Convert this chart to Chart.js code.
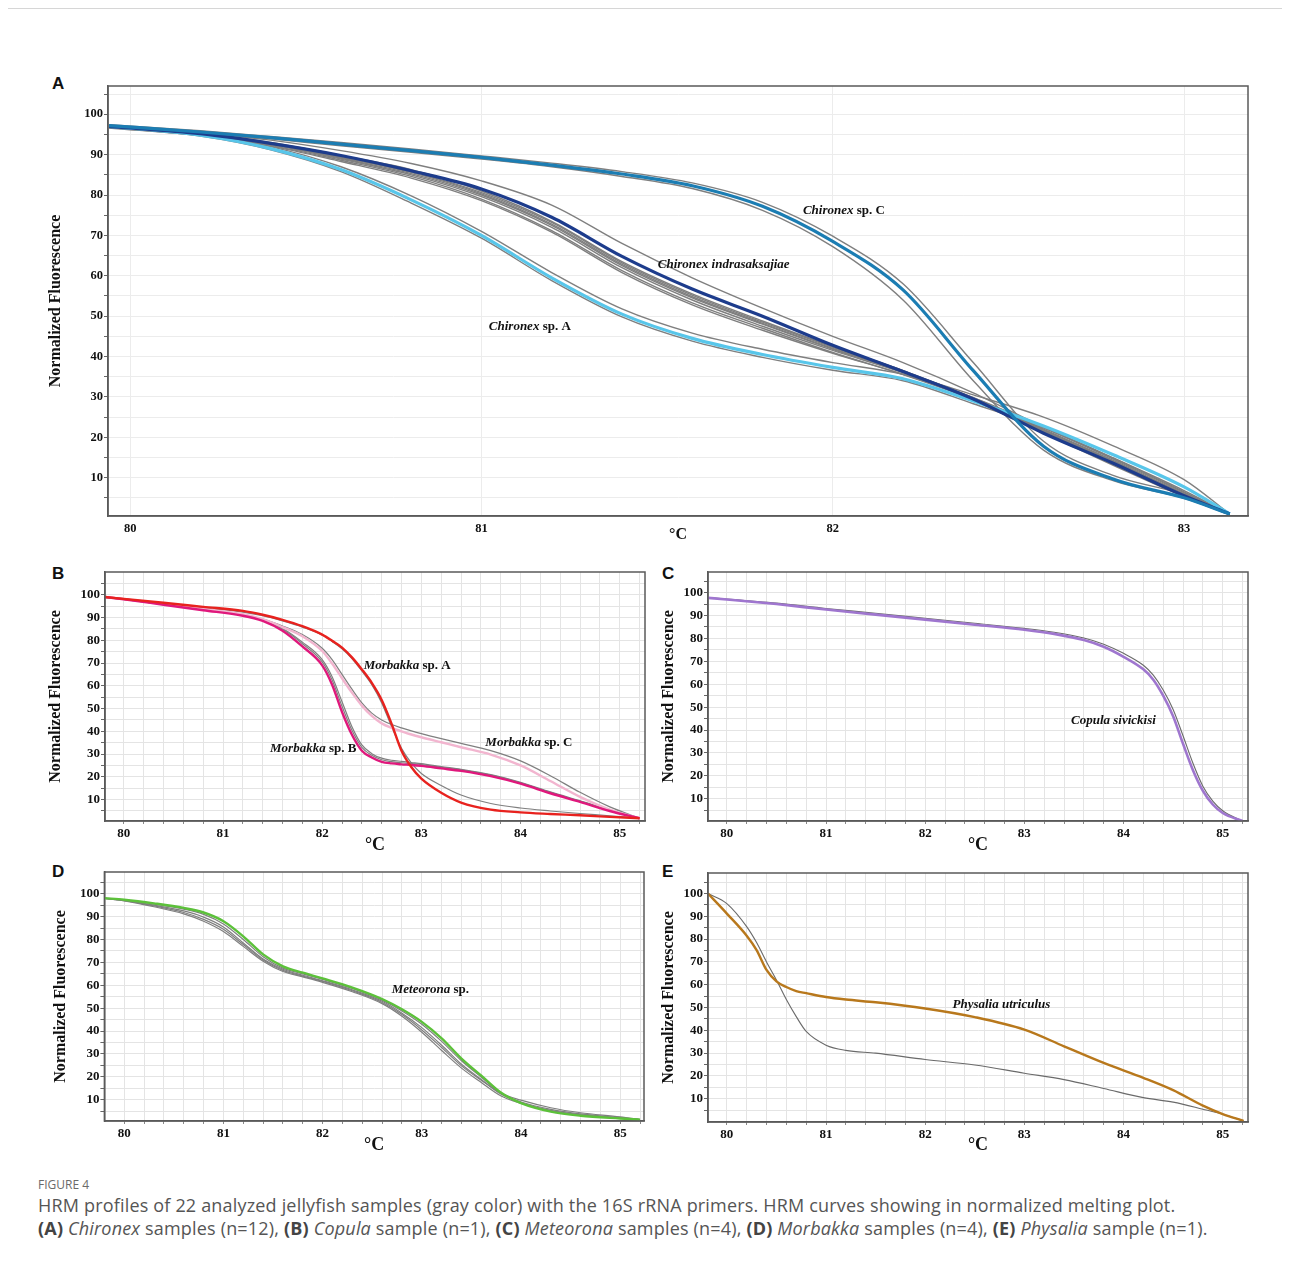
<!DOCTYPE html>
<html><head><meta charset="utf-8">
<script src="https://cdn.jsdelivr.net/npm/chart.js@4.4.0/dist/chart.umd.min.js"></script>
<style>
html,body{margin:0;padding:0;background:#fff}
body{width:1290px;height:1263px;position:relative;overflow:hidden;font-family:"Open Sans","Noto Sans",sans-serif}
.rule{position:absolute;left:8px;top:8px;width:1274px;height:1px;background:#d6d6d6}
canvas{position:absolute}
.plbl{position:absolute;font:bold 17px "Liberation Sans",Arial,sans-serif;color:#111;line-height:17px}
.fig{position:absolute;left:38px;top:1176px;font-size:12px;color:#6a6a6a;white-space:nowrap}
.cap{position:absolute;left:38px;top:1194px;font-size:18px;line-height:23px;color:#555;white-space:nowrap;letter-spacing:0.18px}
.cap b{color:#444}
</style></head><body>
<div class="rule"></div>
<div class="plbl" style="left:52px;top:75px">A</div>
<div class="plbl" style="left:52px;top:565px">B</div>
<div class="plbl" style="left:662px;top:565px">C</div>
<div class="plbl" style="left:52px;top:863px">D</div>
<div class="plbl" style="left:662px;top:863px">E</div>
<canvas id="cA" width="1240" height="480" style="left:30px;top:70px"></canvas>
<canvas id="cB" width="630" height="300" style="left:30px;top:560px"></canvas>
<canvas id="cC" width="630" height="300" style="left:640px;top:560px"></canvas>
<canvas id="cD" width="630" height="300" style="left:30px;top:860px"></canvas>
<canvas id="cE" width="630" height="300" style="left:640px;top:860px"></canvas>
<div class="fig">FIGURE 4</div>
<div class="cap">HRM profiles of 22 analyzed jellyfish samples (gray color) with the 16S rRNA primers. HRM curves showing in normalized melting plot.<br><b>(A)</b> <i>Chironex</i> samples (n=12), <b>(B)</b> <i>Copula</i> sample (n=1), <b>(C)</b> <i>Meteorona</i> samples (n=4), <b>(D)</b> <i>Morbakka</i> samples (n=4), <b>(E)</b> <i>Physalia</i> sample (n=1).</div>
<script>
// ---------------- DATA ----------------
// Tick labels
const yTickLabels = [10, 20, 30, 40, 50, 60, 70, 80, 90, 100];
const yGridValues = [5, 10, 15, 20, 25, 30, 35, 40, 45, 50, 55, 60, 65, 70, 75, 80, 85, 90, 95, 100, 105];
const xTickLabelsA = [80, 81, 82, 83];
const xTickLabelsBE = [80, 81, 82, 83, 84, 85];

// Panel A: Chironex (temperature, °C)
const aTemp = [79.94, 80.2, 80.4, 80.6, 80.8, 81.0, 81.2, 81.4, 81.6, 81.8, 82.0, 82.2, 82.4, 82.6, 82.8, 83.0, 83.13];
const aChironexC = [97.2, 95.6, 94.2, 92.6, 91.0, 89.3, 87.4, 85.2, 82.3, 77.2, 68.5, 56.5, 36.5, 17.8, 9.6, 5.0, 1];
const aIndrasaksajiae = [97.0, 95.2, 92.8, 89.8, 86.0, 81.5, 74.5, 64.8, 56.7, 50.0, 42.8, 36.3, 29.5, 21.0, 13.5, 5.5, 1];
const aChironexA = [97.0, 94.8, 91.5, 86.3, 78.8, 70.0, 59.5, 50.5, 44.5, 40.5, 37.3, 34.5, 29.0, 22.8, 15.6, 7.7, 1];
const aSampleGray1 = [97.2, 95.0, 92.0, 87.0, 79.8, 71.0, 60.8, 51.8, 45.8, 41.8, 38.5, 35.6, 30.5, 25.0, 17.8, 9.5, 1];
const aSampleGray2 = [96.8, 94.6, 91.2, 85.8, 78.0, 69.3, 58.8, 49.8, 43.8, 39.8, 36.6, 34.0, 28.3, 22.3, 14.8, 6.8, 1];
const aSampleGray3 = [97.4, 95.9, 94.5, 93.0, 91.4, 89.7, 87.9, 85.8, 83.0, 78.2, 69.8, 58.0, 38.5, 19.0, 10.5, 5.8, 1];
const aSampleGray4 = [97.0, 95.4, 93.9, 92.2, 90.6, 88.9, 87.0, 84.6, 81.6, 76.2, 67.2, 54.0, 34.0, 16.8, 9.2, 4.9, 1];
const aSampleGray5 = [97.2, 95.5, 93.6, 91.0, 87.8, 83.5, 77.5, 68.0, 59.5, 52.0, 45.0, 38.5, 31.0, 22.5, 14.5, 6.3, 1];
const aSampleGray6 = [97.0, 95.3, 93.0, 89.8, 86.3, 81.0, 73.5, 63.5, 55.5, 48.8, 42.5, 36.5, 29.5, 21.5, 13.8, 5.8, 1];
const aSampleGray7 = [96.9, 95.1, 92.7, 89.3, 85.6, 80.3, 72.8, 62.8, 54.8, 48.2, 42.0, 36.3, 29.8, 22.0, 14.2, 6.0, 1];
const aSampleGray8 = [96.8, 95.0, 92.5, 88.9, 85.0, 79.6, 72.0, 62.0, 54.0, 47.5, 41.5, 36.0, 29.5, 21.5, 13.5, 5.5, 1];
const aSampleGray9 = [96.7, 94.8, 92.3, 88.6, 84.6, 79.0, 71.2, 61.3, 53.3, 47.0, 41.0, 35.5, 29.3, 21.8, 14.0, 6.0, 1];
const aSampleGray10 = [96.6, 94.7, 92.1, 88.3, 84.2, 78.6, 70.8, 60.8, 52.8, 46.5, 40.8, 35.6, 29.8, 22.5, 14.8, 6.5, 1];
const aSampleGray11 = [96.8, 95.0, 92.6, 89.1, 85.3, 80.0, 72.5, 62.5, 54.5, 48.0, 41.8, 36.2, 29.2, 21.0, 13.0, 5.3, 1];
const aSampleGray12 = [96.9, 95.2, 92.8, 89.5, 85.8, 80.6, 73.2, 63.2, 55.2, 48.5, 42.3, 36.5, 29.6, 21.3, 13.3, 5.6, 1];

// Panel B: Morbakka
const bTemp = [79.81, 80.0, 80.4, 80.8, 81.2, 81.4, 81.6, 81.8, 82.0, 82.1, 82.2, 82.3, 82.4, 82.5, 82.6, 82.7, 82.8, 82.9, 83.0, 83.2, 83.4, 83.7, 84.0, 84.3, 84.6, 84.9, 85.2];
const bMorbakkaA = [99.0, 98.2, 96.5, 94.7, 92.9, 91.2, 89.0, 86.2, 82.5, 79.8, 76.8, 72.5, 67.2, 61.3, 53.8, 43.3, 31.5, 24.2, 19.2, 13.0, 8.7, 5.6, 4.4, 3.7, 3.1, 2.4, 1.8];
const bMorbakkaB = [99.0, 98.0, 95.6, 93.2, 90.8, 88.5, 84.2, 77.3, 69.0, 60.5, 48.5, 38.5, 31.5, 28.5, 26.6, 25.9, 25.5, 25.2, 24.8, 23.7, 22.6, 20.3, 17.0, 12.8, 9.0, 5.0, 1.8];
const bMorbakkaC = [99.0, 98.1, 96.0, 93.8, 91.5, 89.3, 85.8, 81.8, 75.3, 69.8, 63.3, 57.0, 51.3, 46.8, 43.5, 41.5, 40.0, 38.6, 37.4, 35.2, 33.0, 29.8, 25.0, 18.2, 11.2, 5.6, 1.8];
const bSampleGray1 = [98.8, 98.0, 96.2, 94.3, 92.4, 90.8, 88.5, 85.8, 82.3, 79.5, 76.3, 72.0, 66.5, 60.5, 52.5, 42.0, 32.5, 26.0, 21.5, 16.2, 12.0, 8.3, 6.3, 5.0, 3.9, 2.9, 1.8];
const bSampleGray2 = [99.0, 98.0, 95.8, 93.5, 91.2, 89.3, 86.3, 82.5, 76.5, 71.5, 65.0, 58.5, 52.5, 48.0, 45.0, 43.0, 41.5, 40.2, 39.0, 36.8, 34.7, 31.5, 27.0, 20.5, 13.2, 6.8, 1.8];
const bSampleGray3 = [99.0, 98.0, 95.8, 93.5, 91.2, 88.7, 84.8, 78.5, 70.5, 62.5, 51.0, 40.5, 33.0, 29.5, 27.5, 26.7, 26.2, 25.8, 25.4, 24.2, 23.1, 20.8, 17.4, 13.2, 9.3, 5.3, 1.8];
const bSampleGray4 = [99.0, 98.0, 95.8, 93.5, 91.2, 88.9, 85.2, 79.2, 71.5, 64.0, 53.0, 42.0, 34.0, 30.2, 28.2, 27.3, 26.8, 26.3, 25.8, 24.5, 23.3, 21.0, 17.6, 13.4, 9.5, 5.5, 1.8];

// Panel C: Copula
const cTemp = [79.81, 80.0, 80.5, 81.0, 81.5, 82.0, 82.5, 83.0, 83.3, 83.6, 83.8, 84.0, 84.2, 84.3, 84.4, 84.5, 84.6, 84.7, 84.8, 84.9, 85.0, 85.2];
const cCopula = [97.7, 97.0, 95.0, 92.6, 90.4, 88.2, 86.0, 83.8, 82.0, 79.3, 76.4, 72.0, 66.5, 62.0, 55.0, 46.0, 34.0, 22.5, 13.5, 7.5, 3.8, 0.3];
const cSampleGray1 = [97.8, 97.2, 95.4, 93.1, 91.0, 88.8, 86.6, 84.4, 82.7, 80.2, 77.5, 73.5, 68.3, 64.0, 57.5, 49.0, 37.5, 25.5, 15.5, 9.0, 4.8, 0.3];

// Panel D: Meteorona
const dTemp = [79.8, 80.0, 80.3, 80.6, 80.8, 81.0, 81.2, 81.4, 81.6, 81.8, 82.0, 82.3, 82.6, 82.8, 83.0, 83.2, 83.4, 83.6, 83.8, 84.0, 84.3, 84.6, 85.0, 85.2];
const dMeteorona = [98.1, 97.4, 95.8, 93.8, 91.8, 88.0, 81.4, 73.5, 68.3, 65.5, 63.0, 59.0, 54.0, 49.5, 44.0, 36.8, 28.0, 20.5, 13.0, 8.5, 4.8, 3.0, 1.8, 1.3];
const dSampleGray1 = [98.1, 97.3, 95.5, 93.3, 91.0, 86.8, 80.0, 72.5, 67.5, 65.0, 62.6, 58.6, 53.5, 48.8, 43.0, 35.5, 27.0, 19.8, 12.8, 8.7, 5.3, 3.3, 2.0, 1.3];
const dSampleGray2 = [98.0, 97.1, 95.0, 92.5, 89.8, 85.5, 78.5, 71.5, 67.0, 64.4, 62.0, 58.0, 53.0, 47.8, 41.5, 33.8, 25.5, 18.8, 12.4, 9.0, 5.8, 3.8, 2.2, 1.3];
const dSampleGray3 = [98.0, 96.9, 94.3, 91.2, 88.0, 83.5, 77.0, 70.5, 66.0, 63.7, 61.3, 57.2, 52.0, 46.5, 39.5, 31.5, 23.8, 17.5, 11.6, 8.4, 5.2, 3.4, 2.0, 1.3];
const dSampleGray4 = [98.0, 97.0, 94.7, 91.8, 88.8, 84.5, 77.8, 71.0, 66.5, 64.0, 61.7, 57.6, 52.5, 47.2, 40.5, 32.8, 24.8, 18.5, 12.8, 9.8, 6.5, 4.3, 2.5, 1.3];

// Panel E: Physalia
const eTemp = [79.81, 80.0, 80.2, 80.3, 80.4, 80.5, 80.6, 80.7, 80.8, 81.0, 81.2, 81.5, 82.0, 82.5, 83.0, 83.4, 83.8, 84.2, 84.5, 84.8, 85.0, 85.21];
const ePhysalia = [100, 91.2, 81.5, 75.2, 66.5, 61.5, 59.0, 57.2, 56.3, 54.6, 53.5, 52.3, 49.6, 45.8, 40.3, 33.0, 25.7, 19.2, 13.8, 7.0, 3.3, 0.3];
const eSampleGray1 = [100, 95.6, 85.5, 78.5, 70.0, 62.1, 53.5, 46.0, 39.5, 33.5, 31.2, 30.0, 27.2, 24.8, 21.2, 18.4, 14.5, 10.5, 8.5, 5.4, 3.2, 0.3];

// ---------------- HELPERS ----------------
const SERIF = '"Liberation Serif","Times New Roman",serif';
const GRAY = '#7f7f7f';
const pts = (xs, ys) => xs.map((x, i) => ({x: x, y: ys[i]}));
function ds(xs, ys, color, width) {
  return {data: pts(xs, ys), borderColor: color, borderWidth: width, pointRadius: 0,
          fill: false, cubicInterpolationMode: 'monotone'};
}

const framePlugin = {
  id: 'frame',
  afterDraw(chart) {
    const a = chart.chartArea, c = chart.ctx;
    c.save(); c.strokeStyle = '#5a5a5a'; c.lineWidth = 1.5;
    c.strokeRect(a.left, a.top, a.right - a.left, a.bottom - a.top);
    c.restore();
  }
};
const notesPlugin = {
  id: 'notes',
  afterDatasetsDraw(chart, args, opts) {
    const c = chart.ctx, sx = chart.scales.x, sy = chart.scales.y;
    (opts.items || []).forEach(it => {
      let px = sx.getPixelForValue(it.x);
      const py = sy.getPixelForValue(it.y);
      c.save(); c.fillStyle = '#111'; c.textBaseline = 'middle'; c.textAlign = 'left';
      it.parts.forEach(p => {
        c.font = (p.i ? 'italic ' : '') + 'bold ' + it.size + 'px ' + SERIF;
        c.fillText(p.t, px, py);
        px += c.measureText(p.t).width;
      });
      c.restore();
    });
  }
};

function makeChart(id, cfg) {
  const yTicks = yGridValues.filter(v => v > cfg.yMin && v < cfg.yMax);
  new Chart(document.getElementById(id), {
    type: 'line',
    data: {datasets: cfg.datasets},
    plugins: [framePlugin, notesPlugin],
    options: {
      responsive: false, animation: false, devicePixelRatio: 1,
      layout: {padding: cfg.pad},
      plugins: {legend: {display: false}, tooltip: {enabled: false}, notes: {items: cfg.notes}},
      scales: {
        x: {
          type: 'linear', min: cfg.xMin, max: cfg.xMax,
          afterBuildTicks: s => { s.ticks = cfg.xTicks.map(v => ({value: v})); },
          afterFit: s => { s.height = cfg.xH; },
          ticks: {autoSkip: false, maxRotation: 0, padding: 2, color: '#111',
                  font: {family: SERIF, weight: 'bold', size: cfg.tickSize},
                  callback: v => cfg.xLabels.includes(v) ? String(v) : ''},
          grid: {color: cfg.gridColor, lineWidth: 1, tickLength: 3,
                 tickColor: cfg.xTickColor},
          border: {color: '#5a5a5a', width: 1.5},
          title: {display: true, text: '°C', color: '#111',
                  font: {family: SERIF, weight: 'bold', size: cfg.cSize},
                  padding: {top: 0, bottom: cfg.cPad}}
        },
        y: {
          type: 'linear', min: cfg.yMin, max: cfg.yMax,
          afterBuildTicks: s => { s.ticks = yTicks.map(v => ({value: v})); },
          afterFit: s => { s.width = cfg.yW; },
          ticks: {autoSkip: false, padding: 1, color: '#111',
                  font: {family: SERIF, weight: 'bold', size: cfg.tickSize},
                  callback: v => yTickLabels.includes(v) ? String(v) : ''},
          grid: {color: cfg.gridColor, lineWidth: 1, tickLength: 4, tickColor: '#666'},
          border: {color: '#5a5a5a', width: 1.5},
          title: {display: true, text: 'Normalized Fluorescence', color: '#111',
                  font: {family: SERIF, weight: 'bold', size: 16},
                  padding: {top: cfg.tPad, bottom: 0}}
        }
      }
    }
  });
}

const minorBE = [];
for (let i = 400; i <= 426; i++) minorBE.push(i / 5);

// ---------------- PANEL A ----------------
makeChart('cA', {
  xMin: 79.937, xMax: 83.182, yMin: 0.5, yMax: 107,
  xTicks: xTickLabelsA, xLabels: xTickLabelsA, xTickColor: 'rgba(0,0,0,0)',
  pad: {left: 0, top: 16, right: 22, bottom: 0}, yW: 78, xH: 34,
  tickSize: 12.5, cSize: 16, cPad: 6, tPad: 16, gridColor: '#ececec',
  notes: [
    {x: 81.915, y: 76.2, size: 13, parts: [{t: 'Chironex', i: true}, {t: ' sp. C'}]},
    {x: 81.502, y: 62.8, size: 13, parts: [{t: 'Chironex indrasaksajiae', i: true}]},
    {x: 81.021, y: 47.4, size: 13, parts: [{t: 'Chironex', i: true}, {t: ' sp. A'}]}
  ],
  datasets: [
    ds(aTemp, aChironexC, '#1b7db3', 3.2),
    ds(aTemp, aIndrasaksajiae, '#1d3c8c', 3.2),
    ds(aTemp, aChironexA, '#58c6ea', 3.2),
    ds(aTemp, aSampleGray1, GRAY, 1.4), ds(aTemp, aSampleGray2, GRAY, 1.4),
    ds(aTemp, aSampleGray3, GRAY, 1.4), ds(aTemp, aSampleGray4, GRAY, 1.4),
    ds(aTemp, aSampleGray5, GRAY, 1.4), ds(aTemp, aSampleGray6, GRAY, 1.4),
    ds(aTemp, aSampleGray7, GRAY, 1.4), ds(aTemp, aSampleGray8, GRAY, 1.4),
    ds(aTemp, aSampleGray9, GRAY, 1.4), ds(aTemp, aSampleGray10, GRAY, 1.4),
    ds(aTemp, aSampleGray11, GRAY, 1.4), ds(aTemp, aSampleGray12, GRAY, 1.4)
  ]
});

// ---------------- PANEL B ----------------
makeChart('cB', {
  xMin: 79.81, xMax: 85.255, yMin: 0.6, yMax: 110,
  xTicks: minorBE, xLabels: xTickLabelsBE, xTickColor: '#888',
  pad: {left: 0, top: 12, right: 15, bottom: 0}, yW: 75, xH: 39,
  tickSize: 13, cSize: 18, cPad: 4, tPad: 16, gridColor: '#e4e4e4',
  notes: [
    {x: 82.418, y: 69, size: 13, parts: [{t: 'Morbakka', i: true}, {t: ' sp. A'}]},
    {x: 81.474, y: 32.4, size: 13, parts: [{t: 'Morbakka', i: true}, {t: ' sp. B'}]},
    {x: 83.645, y: 34.9, size: 13, parts: [{t: 'Morbakka', i: true}, {t: ' sp. C'}]}
  ],
  datasets: [
    ds(bTemp, bMorbakkaA, '#e8221e', 2.4),
    ds(bTemp, bMorbakkaB, '#e0187c', 2.4),
    ds(bTemp, bMorbakkaC, '#f2b5cf', 2.4),
    ds(bTemp, bSampleGray1, GRAY, 1.2), ds(bTemp, bSampleGray2, GRAY, 1.2),
    ds(bTemp, bSampleGray3, GRAY, 1.2), ds(bTemp, bSampleGray4, GRAY, 1.2)
  ]
});

// ---------------- PANEL C ----------------
makeChart('cC', {
  xMin: 79.81, xMax: 85.255, yMin: 0.3, yMax: 109,
  xTicks: minorBE, xLabels: xTickLabelsBE, xTickColor: '#888',
  pad: {left: 0, top: 12, right: 22, bottom: 0}, yW: 68, xH: 39,
  tickSize: 13, cSize: 18, cPad: 4, tPad: 19, gridColor: '#e4e4e4',
  notes: [
    {x: 83.47, y: 43.9, size: 13, parts: [{t: 'Copula sivickisi', i: true}]}
  ],
  datasets: [
    ds(cTemp, cCopula, '#9f76cf', 2.6),
    ds(cTemp, cSampleGray1, '#6a6a6a', 1.1)
  ]
});

// ---------------- PANEL D ----------------
makeChart('cD', {
  xMin: 79.80, xMax: 85.24, yMin: 0.7, yMax: 109.5,
  xTicks: minorBE, xLabels: xTickLabelsBE, xTickColor: '#888',
  pad: {left: 0, top: 12, right: 16, bottom: 0}, yW: 74.4, xH: 39,
  tickSize: 13, cSize: 18, cPad: 4, tPad: 21, gridColor: '#e4e4e4',
  notes: [
    {x: 82.697, y: 58, size: 13, parts: [{t: 'Meteorona', i: true}, {t: ' sp.'}]}
  ],
  datasets: [
    ds(dTemp, dMeteorona, '#5cc13a', 2.4),
    ds(dTemp, dSampleGray1, GRAY, 1.2), ds(dTemp, dSampleGray2, GRAY, 1.2),
    ds(dTemp, dSampleGray3, GRAY, 1.2), ds(dTemp, dSampleGray4, GRAY, 1.2)
  ]
});

// ---------------- PANEL E ----------------
makeChart('cE', {
  xMin: 79.81, xMax: 85.255, yMin: -0.2, yMax: 109,
  xTicks: minorBE, xLabels: xTickLabelsBE, xTickColor: '#888',
  pad: {left: 0, top: 13, right: 22, bottom: 0}, yW: 68, xH: 38,
  tickSize: 13, cSize: 18, cPad: 4, tPad: 19, gridColor: '#e4e4e4',
  notes: [
    {x: 82.275, y: 51.1, size: 13, parts: [{t: 'Physalia utriculus', i: true}]}
  ],
  datasets: [
    ds(eTemp, ePhysalia, '#b8781c', 2.4),
    ds(eTemp, eSampleGray1, '#6a6a6a', 1.1)
  ]
});
</script>
</body></html>
